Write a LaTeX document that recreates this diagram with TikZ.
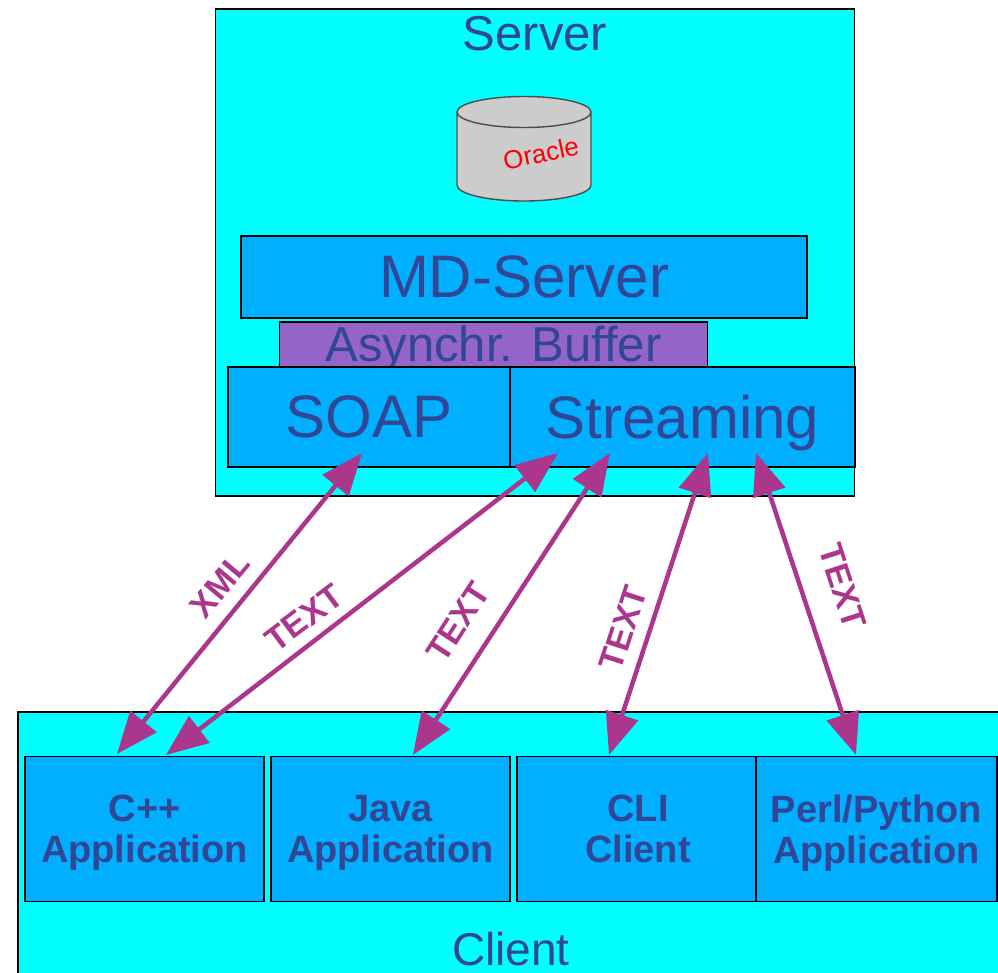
\documentclass[tikz,border=0pt]{standalone}
\usepackage{fontspec}
\setmainfont{Liberation Sans}
\usetikzlibrary{arrows.meta}
\definecolor{cy}{RGB}{0,255,255}
\definecolor{bl}{RGB}{0,175,255}
\definecolor{pu}{RGB}{148,100,200}
\definecolor{tx}{RGB}{50,70,150}
\definecolor{ar}{RGB}{170,55,140}
\tikzset{x=1pt,y=-1pt,
 box/.style={draw=black,line width=1.3pt,anchor=north west,inner sep=0pt,outer sep=0pt,text=tx,align=center,text depth=0pt},
 app/.style={box,fill=bl,minimum height=145pt,font=\fontsize{38}{41}\selectfont\bfseries},
 big/.style={box,fill=bl,font=\fontsize{60}{62}\selectfont},
 dbl/.style={draw=ar,line width=4.5pt,{Triangle[length=42pt,width=33pt]}-{Triangle[length=42pt,width=33pt]}},
 lab/.style={text=ar,font=\fontsize{34}{36}\selectfont\bfseries,inner sep=0pt}}
\begin{document}
\begin{tikzpicture}
\useasboundingbox (0,0) rectangle (998,972);
\node[box,fill=cy,minimum width=639pt,minimum height=487pt] (server) at (215.5,9) {};
\node[text=tx,font=\fontsize{49}{51}\selectfont,inner sep=0pt,text depth=0pt] (st) at (535,33) {Server};
\draw[draw=black!70,line width=1.4pt,fill=black!20] (457,112) -- (457,185) arc[start angle=180,end angle=360,x radius=67pt,y radius=16pt] -- (591,112) arc[start angle=0,end angle=360,x radius=67pt,y radius=15.5pt];
\node[text=red,rotate=12,font=\fontsize{26}{28}\selectfont,inner sep=0pt] (or) at (541,153) {Oracle};
\node[big,minimum width=566pt,minimum height=82pt] (md) at (241,236) {MD-Server};
\node[box,fill=pu,minimum width=428pt,minimum height=45pt,font=\fontsize{49}{51}\selectfont] (buf) at (279.5,322) {\raisebox{2pt}{Asynchr. Buffer}};
\node[big,minimum width=282pt,minimum height=100pt] (soap) at (228,367) {SOAP};
\node[big,minimum width=345pt,minimum height=100pt] (str) at (510,367) {Streaming};
\node[box,fill=cy,minimum width=990pt,minimum height=270pt] (client) at (18,712) {};
\node[app,minimum width=239pt] (cpp) at (25,756.5) {C++\\Application};
\node[app,minimum width=239pt] (java) at (271,756.5) {Java\\Application};
\node[app,minimum width=239pt] (cli) at (517,756.5) {\hspace{3pt}CLI\\\hspace{3pt}Client};
\node[app,minimum width=241pt] (perl) at (756,756.5) {Perl/Python\\Application};
\node[text=tx,font=\fontsize{46}{48}\selectfont,inner sep=0pt,text depth=0pt] (ct) at (511,949) {Client};
\coordinate (a1) at (362,453); \coordinate (b1) at (117,754);
\coordinate (a2) at (558,453); \coordinate (b2) at (166,755);
\coordinate (a3) at (610,453); \coordinate (b3) at (413,755);
\coordinate (a4) at (708,453); \coordinate (b4) at (609,755);
\coordinate (a5) at (756,453); \coordinate (b5) at (856,755);
\draw[dbl] (a1) -- (b1);
\draw[dbl] (a2) -- (b2);
\draw[dbl] (a3) -- (b3);
\draw[dbl] (a4) -- (b4);
\draw[dbl] (a5) -- (b5);
\node[lab,rotate=50] (l1) at (220,585) {XML};
\node[lab,rotate=37] (l2) at (304,618) {TEXT};
\node[lab,rotate=57] (l3) at (458,622) {TEXT};
\node[lab,rotate=72] (l4) at (623,628) {TEXT};
\node[lab,rotate=-72] (l5) at (843,586) {TEXT};
\end{tikzpicture}
\end{document}
